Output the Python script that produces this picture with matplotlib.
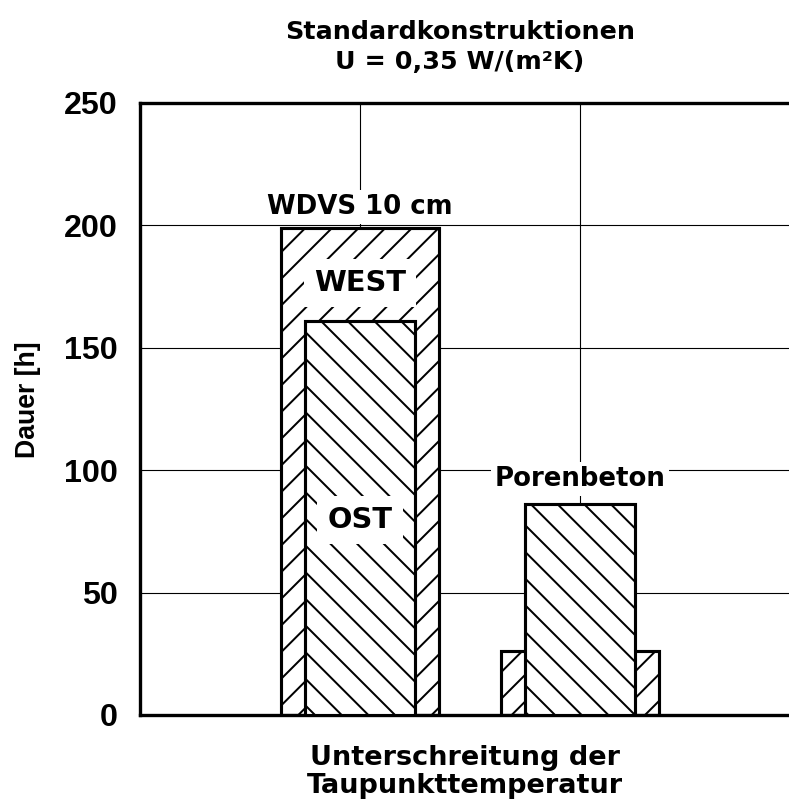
import numpy as np
import matplotlib
matplotlib.use('Agg')
from matplotlib import pyplot as plt

plt.rcParams['font.family'] = ['Liberation Sans', 'DejaVu Sans']
plt.rcParams['font.weight'] = 'bold'
plt.rcParams['hatch.linewidth'] = 0.9
plt.rcParams['hatch.color'] = 'black'

groups = ['WDVS 10 cm', 'Porenbeton']
west = [199, 26]
ost = [161, 86]
yticks = [0, 50, 100, 150, 200, 250]

dpi = 160
fig = plt.figure(figsize=(789 / dpi, 805 / dpi), dpi=dpi)
ax = fig.add_axes([140 / 789, 1 - 715 / 805, 1 - 140 / 789, (715 - 103) / 805])

x = np.arange(len(groups))
ax.bar(x, west, width=0.715, color='white', edgecolor='black', linewidth=1.4, hatch='//', zorder=2)
ax.bar(x, ost, width=0.5, color='white', edgecolor='black', linewidth=1.4, hatch='\\\\', zorder=3)

ax.set_xlim(-1, 1.95)
ax.set_ylim(0, 250)
ax.set_yticks(yticks)
ax.set_xticks(x)
ax.set_xticklabels([])
ax.tick_params(axis='x', length=0)
ax.tick_params(axis='y', length=0, labelsize=14.5, pad=10)
ax.grid(True, color='black', linewidth=0.5, zorder=0)
ax.set_axisbelow(True)

for s in ['top', 'left', 'bottom']:
    ax.spines[s].set_linewidth(1.5)
ax.spines['right'].set_visible(False)

dv = ['DejaVu Sans']
box = dict(facecolor='white', edgecolor='none', boxstyle='square,pad=0.15')
box2 = dict(facecolor='white', edgecolor='none', boxstyle='square,pad=0.35')
ax.text(0, 207.5, 'WDVS 10 cm', ha='center', va='center', fontsize=11.7, family=dv, fontweight='bold', bbox=box, zorder=4)
ax.text(0, 176.5, 'WEST', ha='center', va='center', fontsize=13, family=dv, fontweight='bold', bbox=box2, zorder=4)
ax.text(0, 79.5, 'OST', ha='center', va='center', fontsize=13, family=dv, fontweight='bold', bbox=box2, zorder=4)
ax.text(1, 96.5, 'Porenbeton', ha='center', va='center', fontsize=11.7, family=dv, fontweight='bold', bbox=box, zorder=4)

fig.text(460 / 789, 1 - 47 / 805, 'Standardkonstruktionen\nU = 0,35 W/(m²K)', ha='center', va='center',
         fontsize=11.4, family=dv, fontweight='bold', linespacing=1.3)
fig.text(465 / 789, 1 - 772 / 805, 'Unterschreitung der\nTaupunkttemperatur', ha='center', va='center',
         fontsize=12.2, family=dv, fontweight='bold', linespacing=1.12)
fig.text(28 / 789, 1 - 400 / 805, 'Dauer [h]', ha='center', va='center', rotation=90,
         fontsize=12, fontweight='bold')

fig.savefig('out.png', dpi=dpi)
